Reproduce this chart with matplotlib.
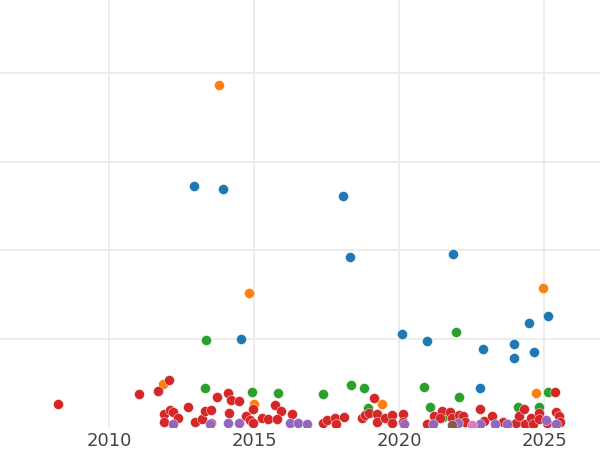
import matplotlib
matplotlib.use("Agg")
import matplotlib.pyplot as plt

# values (x = year, y = value)
blue_x = [2012.93, 2013.93, 2018.07, 2018.31, 2021.86, 2014.55, 2020.10, 2020.97,
          2024.48, 2025.14, 2023.97, 2022.90, 2023.97, 2024.66, 2022.79]
blue_y = [272, 269, 261, 192, 195, 99, 105, 97, 118, 125, 94, 88, 78, 85, 44]

orange_x = [2013.79, 2014.83, 2024.97, 2011.86, 2015.00, 2019.41, 2024.72]
orange_y = [386, 151, 157, 49, 26, 26, 38]

green_x = [2013.34, 2021.97, 2013.31, 2014.93, 2015.83, 2017.38, 2018.34, 2018.79,
           2018.93, 2020.86, 2021.07, 2022.07, 2024.10, 2024.83, 2025.14, 2021.52]
green_y = [98, 107, 44, 40, 38, 37, 47, 44, 21, 45, 23, 34, 23, 23, 40, 11]

red_x = [2008.24, 2011.03, 2011.69, 2012.07, 2011.90, 2012.10, 2012.21, 2012.38,
         2011.90, 2012.72, 2012.97, 2013.21, 2013.31, 2013.52, 2013.52, 2013.72,
         2014.10, 2014.21, 2014.48, 2014.14, 2014.72, 2014.86, 2014.97, 2014.97,
         2015.28, 2015.48, 2015.72, 2015.93, 2015.79, 2016.31, 2017.38, 2017.52,
         2017.79, 2017.83, 2018.10, 2018.72, 2018.83, 2018.97, 2019.14, 2019.24,
         2019.24, 2019.52, 2019.76, 2019.76, 2020.14, 2020.14, 2020.97, 2021.21,
         2021.48, 2021.41, 2021.76, 2021.83, 2022.07, 2022.21, 2022.28, 2022.79,
         2022.93, 2023.21, 2023.59, 2023.76, 2024.03, 2024.14, 2024.31, 2024.34,
         2024.55, 2024.62, 2024.83, 2024.83, 2025.10, 2025.38, 2025.41, 2025.52,
         2025.55]
red_y = [26, 37, 41, 53, 15, 19, 17, 10,
         6, 23, 6, 9, 18, 19, 5, 34,
         38, 31, 29, 16, 12, 8, 20, 5,
         10, 9, 25, 18, 9, 15, 5, 8,
         10, 3, 11, 10, 14, 16, 33, 15,
         6, 10, 14, 5, 15, 6, 3, 12,
         18, 10, 17, 10, 14, 12, 6, 20,
         7, 12, 6, 3, 5, 12, 20, 3,
         10, 3, 16, 9, 5, 40, 17, 12,
         6]

purple_x = [2012.21, 2013.48, 2014.10, 2014.48, 2016.24, 2016.52, 2016.83, 2020.17,
            2021.17, 2022.03, 2022.79, 2023.31, 2023.72, 2025.07, 2025.41]
purple_y = [3, 3, 4, 5, 4, 4, 3, 3, 3, 4, 3, 3, 3, 8, 3]

brown_x = [2021.83]
brown_y = [2]

pink_x = [2022.52]
pink_y = [2]

series = [
    (blue_x, blue_y, "#1f77b4"),
    (orange_x, orange_y, "#ff7f0e"),
    (green_x, green_y, "#2ca02c"),
    (red_x, red_y, "#d62728"),
    (purple_x, purple_y, "#9467bd"),
    (brown_x, brown_y, "#8c564b"),
    (pink_x, pink_y, "#e377c2"),
]

fig = plt.figure(figsize=(6, 4.5), dpi=100)
ax = fig.add_axes([0, 23 / 450, 1, 427 / 450])

for xs, ys, c in series:
    ax.scatter(xs, ys, s=52, color=c, edgecolors="white", linewidths=0.3, zorder=3)

ax.set_xlim(2006.24, 2026.93)
ax.set_ylim(0, 482.5)
ax.set_xticks([2010, 2015, 2020, 2025])
ax.set_yticks([100, 200, 300, 400])
ax.set_yticklabels([])
ax.grid(True, color="#ebebeb", linewidth=1.3, zorder=0)
ax.set_axisbelow(True)
for sp in ax.spines.values():
    sp.set_visible(False)
ax.tick_params(axis="both", length=0)
ax.tick_params(axis="x", labelsize=13, labelcolor="#444444", pad=3.5)

fig.savefig("out.png", dpi=100)
